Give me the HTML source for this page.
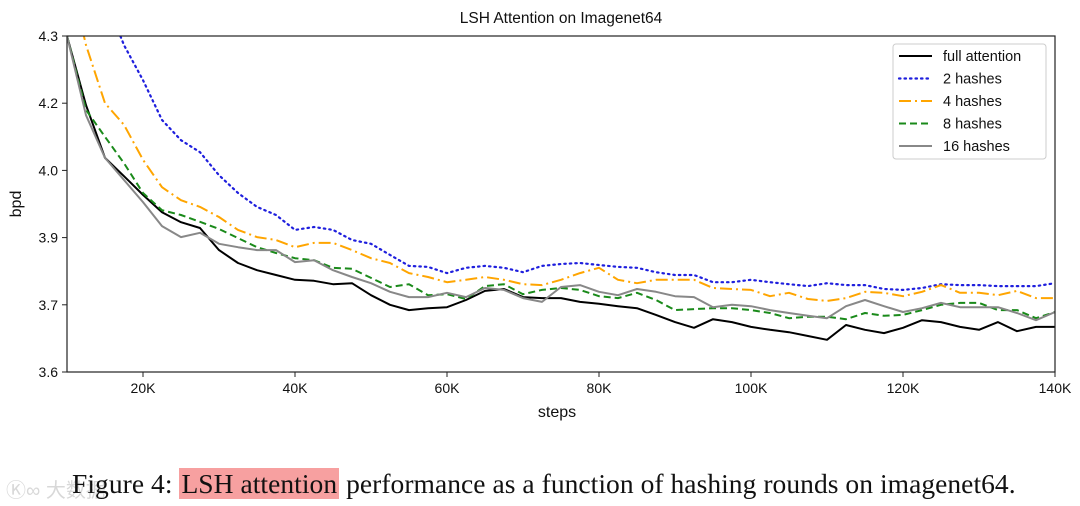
<!DOCTYPE html>
<html><head><meta charset="utf-8"><style>
html,body{margin:0;padding:0;background:#fff;}
body{width:1080px;height:506px;overflow:hidden;position:relative;font-family:"Liberation Sans","DejaVu Sans",sans-serif;}
svg{position:absolute;left:0;top:0;}
#caption{position:absolute;left:72px;top:468px;font-family:"Liberation Serif",serif;font-size:27.5px;color:#111;white-space:nowrap;letter-spacing:0.05px;}
#caption .hl{background:#f7a0a0;padding:0 2px;}
#wm{position:absolute;left:6px;top:474px;font-family:"Liberation Sans","Noto Sans CJK SC",sans-serif;font-size:20px;color:rgba(200,200,200,0.7);}
</style></head><body>
<svg id="chart" width="1080" height="506" xmlns="http://www.w3.org/2000/svg"></svg>
<div id="wm">Ⓚ∞ 大数据</div>
<div id="caption">Figure 4: <span class="hl">LSH attention</span> performance as a function of hashing rounds on imagenet64.</div>
<script>
const steps = [10,12.5,15,17.5,20,22.5,25,27.5,30,32.5,35,37.5,40,42.5,45,47.5,50,52.5,55,57.5,60,62.5,65,67.5,70,72.5,75,77.5,80,82.5,85,87.5,90,92.5,95,97.5,100,102.5,105,107.5,110,112.5,115,117.5,120,122.5,125,127.5,130,132.5,135,137.5,140];
const fullAttention = [4.300,4.156,4.046,4.008,3.969,3.933,3.912,3.900,3.854,3.827,3.812,3.802,3.792,3.790,3.783,3.785,3.760,3.740,3.729,3.733,3.735,3.750,3.769,3.773,3.756,3.754,3.754,3.746,3.742,3.737,3.733,3.719,3.704,3.692,3.710,3.704,3.694,3.688,3.683,3.675,3.667,3.698,3.688,3.681,3.692,3.708,3.704,3.694,3.688,3.704,3.685,3.694,3.694];
const hashes2 = [4.6,4.5,4.38,4.281,4.208,4.125,4.083,4.058,4.010,3.973,3.944,3.927,3.896,3.902,3.896,3.875,3.867,3.844,3.821,3.819,3.806,3.817,3.821,3.817,3.808,3.821,3.825,3.827,3.823,3.819,3.817,3.808,3.802,3.802,3.787,3.787,3.792,3.787,3.783,3.779,3.785,3.781,3.781,3.773,3.771,3.775,3.783,3.781,3.781,3.779,3.779,3.779,3.785];
const hashes4 = [4.45,4.281,4.160,4.115,4.042,3.985,3.958,3.944,3.923,3.896,3.881,3.875,3.860,3.869,3.869,3.854,3.837,3.827,3.806,3.798,3.787,3.792,3.798,3.792,3.783,3.781,3.792,3.806,3.817,3.792,3.785,3.792,3.792,3.792,3.775,3.773,3.771,3.758,3.765,3.752,3.748,3.754,3.767,3.765,3.758,3.767,3.781,3.765,3.765,3.760,3.769,3.754,3.754];
const hashes8 = [4.300,4.146,4.090,4.035,3.973,3.937,3.927,3.913,3.898,3.879,3.860,3.848,3.837,3.833,3.817,3.815,3.796,3.777,3.783,3.760,3.762,3.752,3.779,3.783,3.762,3.771,3.775,3.771,3.758,3.754,3.765,3.750,3.729,3.731,3.733,3.733,3.729,3.723,3.712,3.715,3.715,3.710,3.723,3.717,3.719,3.729,3.740,3.744,3.744,3.729,3.729,3.712,3.725];
const hashes16 = [4.300,4.135,4.046,4.000,3.954,3.904,3.881,3.890,3.867,3.860,3.854,3.854,3.829,3.833,3.812,3.798,3.785,3.767,3.756,3.756,3.765,3.756,3.775,3.771,3.754,3.746,3.777,3.781,3.767,3.760,3.773,3.767,3.758,3.756,3.735,3.740,3.737,3.729,3.723,3.717,3.712,3.737,3.750,3.737,3.725,3.733,3.744,3.735,3.735,3.735,3.723,3.708,3.725];
const xTicks = [20,40,60,80,100,120,140];
const xTickLabels = ["20K","40K","60K","80K","100K","120K","140K"];
const yTicks = [4.3,4.16,4.02,3.88,3.74,3.6];
const yTickLabels = ["4.3","4.2","4.0","3.9","3.7","3.6"];
const seriesNames = ["full attention","2 hashes","4 hashes","8 hashes","16 hashes"];

const L=67,R=1055,T=36,B=372;
const X0=10,X1=140,Y0=3.6,Y1=4.3;
const xs=v=>L+(v-X0)/(X1-X0)*(R-L);
const ys=v=>B-(v-Y0)/(Y1-Y0)*(B-T);
const NS="http://www.w3.org/2000/svg";
const svg=document.getElementById('chart');
function mk(tag,attrs,parent){const e=document.createElementNS(NS,tag);for(const k in attrs)e.setAttribute(k,attrs[k]);(parent||svg).appendChild(e);return e;}

const defs=mk('defs',{});
const cp=mk('clipPath',{id:'plotclip'},defs);
mk('rect',{x:L,y:T,width:R-L,height:B-T},cp);

const title=mk('text',{x:(L+R)/2,y:23,'text-anchor':'middle','font-size':'15.5',fill:'#111'});
title.textContent='LSH Attention on Imagenet64';



const styles=[
 {c:'#000',d:'',w:2},
 {c:'#1f1fdd',d:'1.5,4',w:2.2,cap:'round'},
 {c:'#ffa500',d:'12,4,2,4',w:2},
 {c:'#1a8a1a',d:'7,4',w:2},
 {c:'#888',d:'',w:2}
];
const data=[fullAttention,hashes2,hashes4,hashes8,hashes16];
const lineNames=['full-attention-line','hashes-2-line','hashes-4-line','hashes-8-line','hashes-16-line'];
const g=mk('g',{'clip-path':'url(#plotclip)'});
data.forEach((vals,i)=>{
  const pts=vals.map((v,j)=>xs(steps[j]).toFixed(1)+','+ys(v).toFixed(1)).join(' ');
  const s=styles[i];
  const pl=mk('polyline',{points:pts,fill:'none',stroke:s.c,'stroke-width':s.w,'stroke-linejoin':'round','stroke-linecap':s.cap||'butt'},g);
  if(s.d)pl.setAttribute('stroke-dasharray',s.d);
  
  
});

const frame=mk('rect',{x:L,y:T,width:R-L,height:B-T,fill:'none',stroke:'#222','stroke-width':1.2});



xTicks.forEach((t,i)=>{
  const x=xs(t);
  mk('line',{x1:x,x2:x,y1:B,y2:B+5,stroke:'#222','stroke-width':1});
  const tx=mk('text',{x:x,y:B+21,'text-anchor':'middle','font-size':'14',fill:'#111'});
  tx.textContent=xTickLabels[i];
  
  
});
yTicks.forEach((t,i)=>{
  const y=ys(t);
  mk('line',{x1:L-5,x2:L,y1:y,y2:y,stroke:'#222','stroke-width':1});
  const tx=mk('text',{x:L-9,y:y+5,'text-anchor':'end','font-size':'14',fill:'#111'});
  tx.textContent=yTickLabels[i];
  
  
});
const xt=mk('text',{x:(L+R)/2-4,y:417,'text-anchor':'middle','font-size':'16',fill:'#111'});
xt.textContent='steps';


const yt=mk('text',{x:0,y:0,'text-anchor':'middle','font-size':'16',fill:'#111',transform:'translate(21,204) rotate(-90)'});
yt.textContent='bpd';



const lg=mk('g',{});


mk('rect',{x:893,y:44,width:153,height:115,rx:3,fill:'#fff',stroke:'#ccc','stroke-width':1},lg);
seriesNames.forEach((n,i)=>{
  const y=56+i*22.5;
  const s=styles[i];
  const ln=mk('line',{x1:899,x2:932,y1:y,y2:y,stroke:s.c,'stroke-width':s.w,'stroke-linecap':s.cap||'butt'},lg);
  if(s.d)ln.setAttribute('stroke-dasharray',s.d);
  const tx=mk('text',{x:943,y:y+5,'font-size':'14.5',fill:'#111'},lg);
  tx.textContent=n;
  
  
});
</script>
</body></html>
